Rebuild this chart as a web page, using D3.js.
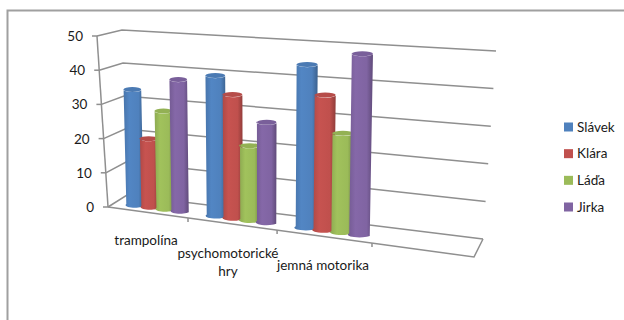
<!DOCTYPE html>
<html>
<head>
<meta charset="utf-8">
<script src="https://cdn.jsdelivr.net/npm/d3@7"></script>
<style>
  body { margin: 0; background: #fff; }
  text { font-family: Lato, "Open Sans", sans-serif; fill: #1a1a1a; }
</style>
</head>
<body>
<div id="chart"></div>
<script>
const categories = ["trampolína", "psychomotorické hry", "jemná motorika"];
const seriesNames = ["Slávek", "Klára", "Láďa", "Jirka"];
const seriesColors = ["#4F81BD", "#C0504D", "#9BBB59", "#8064A2"];
const seriesValues = [
    [34, 40, 45],
    [20, 35, 37],
    [28.5, 21, 27],
    [38, 28, 49]
];
const yTicks = [0, 10, 20, 30, 40, 50];

const width = 624, height = 320;

const svg = d3.select("#chart").append("svg")
    .attr("width", width)
    .attr("height", height)
    .style("display", "block");

// corners of the 3d box as they land on screen (u = left/right, v = value, d = front/back)
const corners = {
    front: { lb: [108, 207], rb: [474, 257], lt: [97, 36], rt: [487, 62] },
    back: { lb: [127, 195], rb: [483, 239], lt: [122, 30], rt: [496, 51] }
};

const yScale = d3.scaleLinear().domain([0, 50]).range([0, 1]);
// the plot leaves room for a 4th empty category, columns widen towards the right
const uScale = d3.scaleLinear().domain([0, 1, 2, 3, 4]).range([0, 0.2186, 0.462, 0.7213, 1]);
const seriesBand = d3.scaleBand().domain(seriesNames).range([0.14, 0.9]);

function lerp(a, b, t) {
    return [a[0] + (b[0] - a[0]) * t, a[1] + (b[1] - a[1]) * t];
}

function project(u, value, d) {
    const v = yScale(value);
    const f = lerp(lerp(corners.front.lb, corners.front.rb, u), lerp(corners.front.lt, corners.front.rt, u), v);
    const b = lerp(lerp(corners.back.lb, corners.back.rb, u), lerp(corners.back.lt, corners.back.rt, u), v);
    return lerp(f, b, d);
}

const line = d3.line();

// frame of the chart area, only left and top show in the crop
svg.append("path")
    .attr("d", line([[7.5, height], [7.5, 10.5], [width, 10.5]]))
    .attr("fill", "none")
    .attr("stroke", "#a0a0a0")
    .attr("stroke-width", 2);

// gridlines: side wall and back wall
const grid = svg.append("g").attr("fill", "none").attr("stroke", "#8f8f8f").attr("stroke-width", 1.5);
yTicks.forEach(t => {
    const p = project(0, t, 0);
    grid.append("path").attr("d", line([p, project(0, t, 1), project(1, t, 1)]));
    grid.append("path").attr("d", line([p, [p[0] - 5, p[1]]]));
});
grid.append("path").attr("d", line([project(0, 0, 0), project(0, 50, 0)]));
// floor
grid.append("path").attr("d", line([project(0, 0, 0), project(1, 0, 0), project(1, 0, 1)]));
d3.range(1, 4).forEach(i => {
    const p = project(uScale(i), 0, 0);
    grid.append("path").attr("d", line([p, [p[0], p[1] + 4]]));
});

// y axis labels
svg.append("g").selectAll("text")
    .data(yTicks)
    .join("text")
    .attr("x", d => project(0, d, 0)[0] - 14)
    .attr("y", d => project(0, d, 0)[1] + 5)
    .attr("text-anchor", "end")
    .attr("font-size", 13.5)
    .text(d => d);

// cylinders
const defs = svg.append("defs");
seriesNames.forEach((name, i) => {
    const c = d3.color(seriesColors[i]);
    const grad = defs.append("linearGradient").attr("id", "bar" + i);
    grad.append("stop").attr("offset", "0%").attr("stop-color", c.darker(0.3));
    grad.append("stop").attr("offset", "30%").attr("stop-color", c.brighter(0.1));
    grad.append("stop").attr("offset", "75%").attr("stop-color", c);
    grad.append("stop").attr("offset", "100%").attr("stop-color", c.darker(0.8));
});

const barDepth = 0.38;
const lean = 0.5; // bars stand straighter than the box edges
const barsG = svg.append("g");
seriesNames.forEach((name, i) => {
    categories.forEach((cat, j) => {
        const value = seriesValues[i][j];
        const a = uScale(j), b = uScale(j + 1);
        const u0 = a + (b - a) * seriesBand(name);
        const u1 = u0 + (b - a) * seriesBand.bandwidth() * 1.15;
        const bl = project(u0, 0, barDepth), br = project(u1, 0, barDepth);
        const tl = project(u0, value, barDepth), tr = project(u1, value, barDepth);
        tl[0] = bl[0] + (tl[0] - bl[0]) * lean;
        tr[0] = br[0] + (tr[0] - br[0]) * lean;
        const rx = (br[0] - bl[0]) / 2, ry = 2.5;
        barsG.append("path")
            .attr("d", `M${tl}L${bl}A${rx},${ry} 0 0 0 ${br}L${tr}A${rx},${ry} 0 0 1 ${tl}Z`)
            .attr("fill", `url(#bar${i})`);
        barsG.append("ellipse")
            .attr("cx", (tl[0] + tr[0]) / 2)
            .attr("cy", (tl[1] + tr[1]) / 2)
            .attr("rx", (tr[0] - tl[0]) / 2)
            .attr("ry", ry)
            .attr("fill", d3.color(seriesColors[i]).darker(0.15));
    });
});

// category labels, placed by hand because the office layout staggers them
const labelPos = [[[146, 245]], [[228, 258], [228, 276]], [[323, 270]]];
const labelLines = [["trampolína"], ["psychomotorické", "hry"], ["jemná motorika"]];
labelLines.forEach((lines, j) => {
    lines.forEach((l, k) => {
        svg.append("text")
            .attr("x", labelPos[j][k][0])
            .attr("y", labelPos[j][k][1])
            .attr("text-anchor", "middle")
            .attr("font-size", 13.5)
            .text(l);
    });
});

// legend
const legendY = d3.scalePoint().domain(seriesNames).range([127, 207]);
const legend = svg.append("g").selectAll("g")
    .data(seriesNames)
    .join("g")
    .attr("transform", d => `translate(564,${legendY(d)})`);
legend.append("rect")
    .attr("y", -4.5)
    .attr("width", 9)
    .attr("height", 9)
    .attr("fill", (d, i) => seriesColors[i]);
legend.append("text")
    .attr("x", 13)
    .attr("y", 4.5)
    .attr("font-size", 13.5)
    .text(d => d);
</script>
</body>
</html>
